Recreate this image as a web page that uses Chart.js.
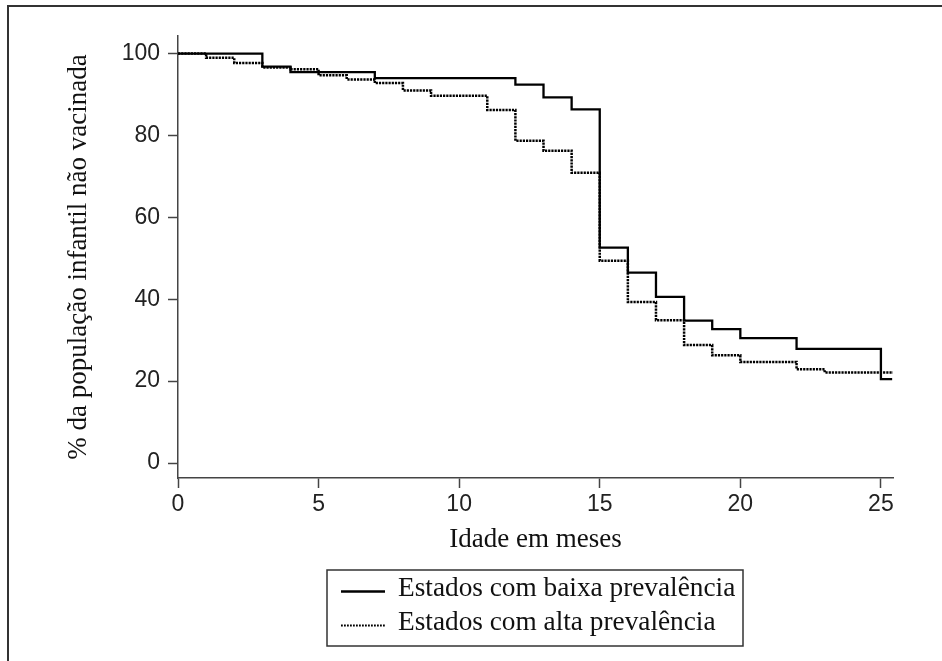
<!DOCTYPE html>
<html>
<head>
<meta charset="utf-8">
<script src="https://cdn.jsdelivr.net/npm/chart.js@4.4.0/dist/chart.umd.min.js"></script>
<style>
  html, body { margin: 0; padding: 0; background: #fff; }
  #wrap { width: 942px; height: 661px; }
</style>
</head>
<body>
<div id="wrap"><canvas id="kmChart" width="942" height="661"></canvas></div>
<script>
// Kaplan-Meier curves: month where each step starts, and % still not vaccinated
const baixaMeses = [0, 3, 4, 7, 12, 13, 14, 15, 16, 17, 18, 19, 20, 22, 25, 25.4];
const baixaPct = [100, 96.8, 95.5, 94.0, 92.4, 89.3, 86.4, 52.6, 46.5, 40.6, 34.8, 32.7, 30.5, 27.9, 20.5, 20.5];

const altaMeses = [0, 1, 2, 3, 4, 5, 6, 7, 8, 9, 11, 12, 13, 14, 15, 16, 17, 18, 19, 20, 22, 23, 25.45];
const altaPct = [100, 99.0, 97.7, 96.6, 96.2, 94.7, 93.7, 92.8, 91.0, 89.7, 86.2, 78.7, 76.3, 70.9, 49.4, 39.3, 34.9, 28.8, 26.3, 24.7, 22.9, 22.1, 22.1];

const xTicks = [0, 5, 10, 15, 20, 25];
const yTicks = [0, 20, 40, 60, 80, 100];

const seriesLabels = ['Estados com baixa prevalência', 'Estados com alta prevalência'];
const xTitle = 'Idade em meses';
const yTitle = '% da população infantil não vacinada';

const toPoints = (xs, ys) => xs.map((x, i) => ({x, y: ys[i]}));

const AXIS = '#444';
const SERIF = 'Liberation Serif';
const SANS = 'Liberation Sans';

// frame around the whole figure (left and top edges only, rest is cropped)
const framePlugin = {
  id: 'frame',
  beforeDraw(chart) {
    const {ctx} = chart;
    ctx.save();
    ctx.fillStyle = '#fff';
    ctx.fillRect(0, 0, chart.width, chart.height);
    ctx.strokeStyle = '#333';
    ctx.lineWidth = 2;
    ctx.beginPath();
    ctx.moveTo(8, chart.height + 2);
    ctx.lineTo(8, 6);
    ctx.lineTo(chart.width + 2, 6);
    ctx.stroke();
    ctx.restore();
  },
};

// boxed legend under the x title
const boxLegendPlugin = {
  id: 'boxLegend',
  afterDraw(chart) {
    const {ctx} = chart;
    const box = {x: 327, y: 570, w: 416, h: 76};
    ctx.save();
    ctx.strokeStyle = '#333';
    ctx.lineWidth = 1.5;
    ctx.strokeRect(box.x, box.y, box.w, box.h);
    ctx.font = `27.3px "${SERIF}"`;
    ctx.fillStyle = '#111';
    ctx.textBaseline = 'alphabetic';
    chart.data.datasets.forEach((ds, i) => {
      const baseY = 596 + i * 34;
      const lineY = baseY - 4.5;
      ctx.beginPath();
      ctx.strokeStyle = ds.borderColor;
      ctx.lineWidth = i === 0 ? 2.5 : 1.8;
      ctx.setLineDash(i === 0 ? [] : [1.8, 1.2]);
      ctx.moveTo(341, lineY);
      ctx.lineTo(385, lineY);
      ctx.stroke();
      ctx.setLineDash([]);
      ctx.fillText(ds.label, 398, baseY);
    });
    ctx.restore();
  },
};

new Chart(document.getElementById('kmChart'), {
  type: 'line',
  data: {
    datasets: [
      {
        label: seriesLabels[0],
        data: toPoints(baixaMeses, baixaPct),
        borderColor: '#000',
        borderWidth: 2.3,
        stepped: true,
        pointRadius: 0,
        fill: false,
      },
      {
        label: seriesLabels[1],
        data: toPoints(altaMeses, altaPct),
        borderColor: '#000',
        borderWidth: 2.5,
        borderDash: [2.2, 1],
        stepped: true,
        pointRadius: 0,
        fill: false,
      },
    ],
  },
  options: {
    responsive: false,
    animation: false,
    devicePixelRatio: 1,
    layout: {padding: {left: 10, right: 49, top: 36, bottom: 104.8}},
    plugins: {
      legend: {display: false},
      tooltip: {enabled: false},
    },
    scales: {
      x: {
        type: 'linear',
        min: 0,
        max: 25.43,
        afterBuildTicks: (scale) => { scale.ticks = xTicks.map(v => ({value: v})); },
        afterFit: (scale) => { scale.height = 78.2; },
        grid: {drawOnChartArea: false, drawTicks: true, tickLength: 10, tickColor: AXIS, tickWidth: 1.5},
        border: {display: true, color: AXIS, width: 1.5},
        ticks: {
          font: {family: SANS, size: 23},
          color: '#222',
          padding: 3,
          maxRotation: 0,
          autoSkip: false,
        },
        title: {
          display: true,
          text: xTitle,
          font: {family: SERIF, size: 27},
          color: '#111',
          padding: 0,
        },
      },
      y: {
        type: 'linear',
        min: -3.66,
        max: 104.3,
        afterBuildTicks: (scale) => { scale.ticks = yTicks.map(v => ({value: v})); },
        afterFit: (scale) => { scale.width = 168; },
        grid: {drawOnChartArea: false, drawTicks: true, tickLength: 10, tickColor: AXIS, tickWidth: 1.5},
        border: {display: true, color: AXIS, width: 1.5},
        ticks: {
          font: {family: SANS, size: 23},
          color: '#222',
          padding: 8,
        },
        title: {
          display: true,
          text: yTitle,
          font: {family: SERIF, size: 27},
          color: '#111',
          padding: {top: 52.8, bottom: 0},
        },
      },
    },
  },
  plugins: [framePlugin, boxLegendPlugin],
});
</script>
</body>
</html>
